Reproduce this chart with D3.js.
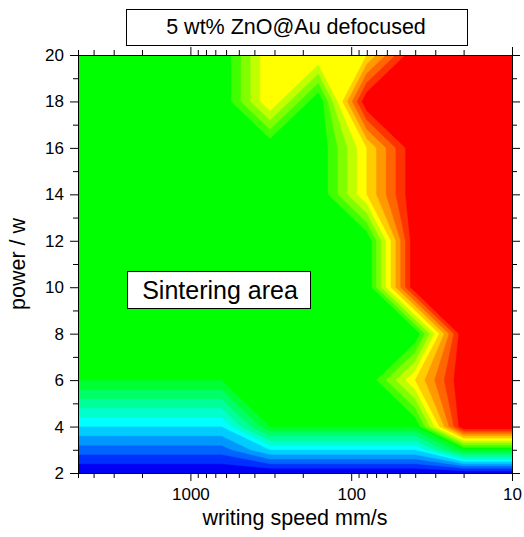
<!DOCTYPE html>
<html>
<head>
<meta charset="utf-8">
<script src="https://cdn.jsdelivr.net/npm/d3@7"></script>
<style>
  body { margin: 0; background: #fff; }
  svg { font-family: "Liberation Sans", Arial, sans-serif; }
</style>
</head>
<body>
<div id="chart"></div>
<script>
// writing speed columns (mm/s) and power rows (W) of the map
var speeds = [5120, 2560, 1280, 640, 320, 160, 80, 40, 20, 10];
var powers = [2, 3, 4, 6, 8, 10, 12, 14, 16, 18, 20];

// state value per power row (0 blue .. 10 green .. 15 yellow .. 20 red)
var p2  = [0, 0, 0, 0, 0, 0, 0, 0, 0, 0];
var p3  = [2.5, 2.5, 2.5, 2.5, 5, 5, 5, 5, 10, 10];
var p4  = [5, 5, 5, 5, 10, 10, 10, 10, 20, 20];
var p6  = [10, 10, 10, 10, 10, 10, 10, 15, 20, 20];
var p8  = [10, 10, 10, 10, 10, 10, 10, 10, 20, 20];
var p10 = [10, 10, 10, 10, 10, 10, 10, 20, 20, 20];
var p12 = [10, 10, 10, 10, 10, 10, 10, 20, 20, 20];
var p14 = [10, 10, 10, 10, 10, 10, 15, 20, 20, 20];
var p16 = [10, 10, 10, 10, 10, 10, 15, 20, 20, 20];
var p18 = [10, 10, 10, 10, 15, 10, 20, 20, 20, 20];
var p20 = [10, 10, 10, 10, 15, 15, 15, 20, 20, 20];
var rows = [p2, p3, p4, p6, p8, p10, p12, p14, p16, p18, p20];

var levelColors = ['#0000f4', '#0030ff', '#0064ff', '#0098ff', '#00ccff',
                   '#00ffff', '#00ffcc', '#00ff99', '#00ff66', '#00ff33',
                   '#00ff00', '#40ff00', '#80ff00', '#c0ff00', '#ffff00',
                   '#ffcc00', '#ff9900', '#ff6600', '#ff3300', '#ff0000'];

var xTicks = [1000, 100, 10];
var yTicks = [2, 4, 6, 8, 10, 12, 14, 16, 18, 20];

var W = 524, H = 537;
var margin = {left: 78, right: 12, top: 55, bottom: 64};
var pw = W - margin.left - margin.right,
    ph = H - margin.top - margin.bottom;

var svg = d3.select('#chart').append('svg')
    .attr('width', W)
    .attr('height', H);

var x = d3.scaleLog().domain([5000, 10]).range([0, pw]);
var y = d3.scaleLinear().domain([2, 20]).range([ph, 0]);

var g = svg.append('g').attr('transform', 'translate(' + margin.left + ',' + margin.top + ')');

svg.append('clipPath').attr('id', 'plotclip')
    .append('rect').attr('width', pw).attr('height', ph);

// contours on the grid, grid index -> data value is piecewise linear
var nx = speeds.length, ny = powers.length;
var values = [];
rows.forEach(function (r) { r.forEach(function (v) { values.push(v); }); });

var colIndex = d3.scaleLinear().domain(d3.range(nx)).range(speeds.map(Math.log10)).clamp(true);
var rowIndex = d3.scaleLinear().domain(d3.range(ny)).range(powers).clamp(true);

// levels above green: a node sitting exactly on 15 or 20 stays in the lower band
var thresholds = d3.range(20).map(function (k) { return k > 10 ? k + 1e-6 : k; });

var contours = d3.contours().size([nx, ny]).thresholds(thresholds)(values);

var path = d3.geoPath(d3.geoTransform({
    point: function (u, v) {
        this.stream.point(x(Math.pow(10, colIndex(u - 0.5))), y(rowIndex(v - 0.5)));
    }
}));

g.append('g').attr('clip-path', 'url(#plotclip)')
    .selectAll('path')
    .data(contours)
    .enter().append('path')
    .attr('d', path)
    .attr('fill', function (d, i) { return levelColors[i]; })
    .attr('stroke', function (d, i) { return levelColors[i]; })
    .attr('stroke-width', 0.4);

// minor tick values
var xMinor = [];
[1, 10, 100, 1000].forEach(function (p) {
    for (var m = 2; m <= 9; m++) {
        var v = m * p;
        if (v > 10 && v <= 5000 && xTicks.indexOf(v) < 0) xMinor.push(v);
    }
});
var yMinor = d3.range(3, 20, 2);

function styleAxis(sel) {
    sel.select('.domain').attr('stroke', '#000').attr('stroke-width', 1);
    sel.selectAll('.tick line').attr('stroke', '#000');
    sel.selectAll('.tick text').attr('fill', '#000').style('font-size', '17px')
        .style('font-family', '"Liberation Sans", Arial, sans-serif');
}

g.append('g').attr('transform', 'translate(0,' + ph + ')')
    .call(d3.axisBottom(x).tickValues(xTicks).tickFormat(d3.format('d')).tickSize(8).tickSizeOuter(0).tickPadding(7))
    .call(styleAxis);
g.append('g').attr('transform', 'translate(0,' + ph + ')')
    .call(d3.axisBottom(x).tickValues(xMinor).tickFormat('').tickSize(5).tickSizeOuter(0))
    .call(styleAxis);
g.append('g')
    .call(d3.axisTop(x).tickValues(xTicks).tickFormat('').tickSize(8).tickSizeOuter(0))
    .call(styleAxis);
g.append('g')
    .call(d3.axisTop(x).tickValues(xMinor).tickFormat('').tickSize(5).tickSizeOuter(0))
    .call(styleAxis);

g.append('g')
    .call(d3.axisLeft(y).tickValues(yTicks).tickSize(8).tickSizeOuter(0).tickPadding(6))
    .call(styleAxis);
g.append('g')
    .call(d3.axisLeft(y).tickValues(yMinor).tickFormat('').tickSize(5).tickSizeOuter(0))
    .call(styleAxis);
g.append('g').attr('transform', 'translate(' + pw + ',0)')
    .call(d3.axisRight(y).tickValues(yTicks).tickFormat('').tickSize(8).tickSizeOuter(0))
    .call(styleAxis);
g.append('g').attr('transform', 'translate(' + pw + ',0)')
    .call(d3.axisRight(y).tickValues(yMinor).tickFormat('').tickSize(5).tickSizeOuter(0))
    .call(styleAxis);

// axis titles
g.append('text')
    .attr('x', pw / 2)
    .attr('y', ph + 52)
    .attr('text-anchor', 'middle')
    .style('font-size', '21.5px')
    .text('writing speed mm/s');

g.append('text')
    .attr('transform', 'translate(' + (-53) + ',' + (ph / 2) + ') rotate(-90)')
    .attr('text-anchor', 'middle')
    .style('font-size', '21.5px')
    .text('power / w');

// title box
svg.append('rect')
    .attr('x', 126.5).attr('y', 9.5)
    .attr('width', 341).attr('height', 36)
    .attr('fill', '#fff').attr('stroke', '#000').attr('stroke-width', 1);
svg.append('text')
    .attr('x', 296).attr('y', 34)
    .attr('text-anchor', 'middle')
    .style('font-size', '21.5px')
    .text('5 wt% ZnO@Au defocused');

// annotation box
svg.append('rect')
    .attr('x', 127.5).attr('y', 271.5)
    .attr('width', 183).attr('height', 37)
    .attr('fill', '#fff').attr('stroke', '#000').attr('stroke-width', 1);
svg.append('text')
    .attr('x', 220).attr('y', 299)
    .attr('text-anchor', 'middle')
    .style('font-size', '25px')
    .text('Sintering area');
</script>
</body>
</html>
